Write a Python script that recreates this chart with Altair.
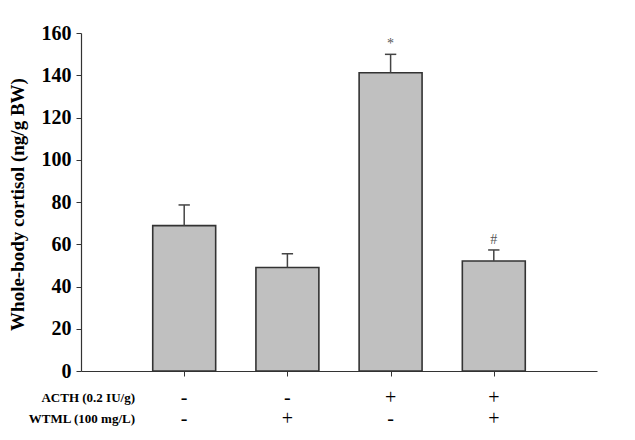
import altair as alt
import pandas as pd

groups = [1, 2, 3, 4]
means = [68.8, 49.0, 141.2, 52.1]
sems = [9.8, 6.5, 8.7, 5.2]
acth = ["-", "-", "+", "+"]
wtml = ["-", "+", "-", "+"]
sig = ["", "", "*", "#"]
row_names = ["ACTH (0.2 IU/g)", "WTML (100 mg/L)"]
y_ticks = [0, 20, 40, 60, 80, 100, 120, 140, 160]

bw = 0.305
cw = 0.055
df = pd.DataFrame({
    "g": groups, "mean": means,
    "x1": [g - bw for g in groups], "x2": [g + bw for g in groups],
    "c1": [g - cw for g in groups], "c2": [g + cw for g in groups],
    "top": [m + s for m, s in zip(means, sems)],
    "acth": acth, "wtml": wtml, "sig": sig,
})

SERIF = "Liberation Serif"
xs = alt.Scale(domain=[0, 5], nice=False, zero=False)
ys = alt.Scale(domain=[0, 160], nice=False)

xaxis = alt.Axis(values=groups, labels=False, title=None, grid=False, ticks=True,
                 tickSize=5, domainColor="#333333", tickColor="#333333", domainWidth=1.2)
yaxis = alt.Axis(values=y_ticks, grid=False, tickSize=5, labelFont=SERIF, labelFontSize=20,
                 labelFontWeight="bold", labelColor="black", labelPadding=5,
                 domainColor="#333333", tickColor="#333333", domainWidth=1.2,
                 title="Whole-body cortisol (ng/g BW)", titleFont=SERIF, titleFontSize=19,
                 titleFontWeight="bold", titleColor="black", titleX=-54, titleY=171)

base = alt.Chart(df)

bars = base.mark_bar(color="#c0c0c0", stroke="#333333", strokeWidth=1.6).encode(
    x=alt.X("x1:Q", scale=xs, axis=xaxis),
    x2="x2:Q",
    y=alt.Y("mean:Q", scale=ys, axis=yaxis),
    y2=alt.datum(0),
)
err = base.mark_rule(color="#444444", strokeWidth=1.5).encode(
    x=alt.X("g:Q", scale=xs), y=alt.Y("mean:Q", scale=ys), y2="top:Q")
cap = base.mark_rule(color="#444444", strokeWidth=1.5).encode(
    x=alt.X("c1:Q", scale=xs), x2="c2:Q", y=alt.Y("top:Q", scale=ys))
sigt = base.mark_text(font=SERIF, fontSize=14, color="#555555", baseline="bottom", dy=-3).encode(
    x=alt.X("g:Q", scale=xs), y=alt.Y("top:Q", scale=ys), text="sig:N")

acth_t = base.mark_text(font=SERIF, fontSize=20, color="black", baseline="middle").encode(
    x=alt.X("g:Q", scale=xs), y=alt.value(365), text="acth:N")
wtml_t = base.mark_text(font=SERIF, fontSize=20, color="black", baseline="middle").encode(
    x=alt.X("g:Q", scale=xs), y=alt.value(386), text="wtml:N")

rowdf = pd.DataFrame({"name": row_names})
row1 = alt.Chart(rowdf).transform_filter(alt.datum.name == row_names[0]).mark_text(
    font=SERIF, fontSize=13, fontWeight="bold", color="black", align="right", baseline="middle"
).encode(x=alt.value(54), y=alt.value(365), text="name:N")
row2 = alt.Chart(rowdf).transform_filter(alt.datum.name == row_names[1]).mark_text(
    font=SERIF, fontSize=13, fontWeight="bold", color="black", align="right", baseline="middle"
).encode(x=alt.value(54), y=alt.value(386), text="name:N")

chart = alt.layer(bars, err, cap, sigt, acth_t, wtml_t, row1, row2).properties(
    width=516, height=338,
    autosize=alt.AutoSizeParams(type="none"),
    padding={"left": 81, "top": 33, "right": 38, "bottom": 69},
    view=alt.ViewBackground(stroke="transparent", strokeWidth=0),
).configure_view(stroke="transparent", strokeWidth=0).configure(background="white")

chart.save("out.html", embed_options={"renderer": "svg", "actions": False})
